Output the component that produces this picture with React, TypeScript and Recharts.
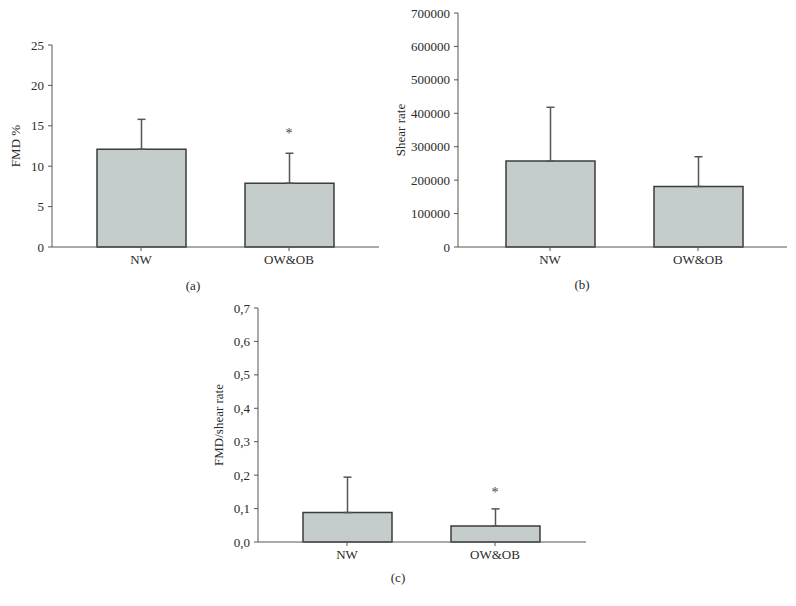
import React from "react";
import { ComposedChart, Bar, ErrorBar, Scatter, XAxis, YAxis } from "recharts";

// groups on the x axis
const categories = ["NW", "OW&OB"];

// (a) FMD %
const fmdMean = [12.1, 7.9];
const fmdSd = [3.7, 3.7];
const fmdTicks = [0, 5, 10, 15, 20, 25];

// (b) shear rate
const shearMean = [257000, 181000];
const shearSd = [161000, 89000];
const shearTicks = [0, 100000, 200000, 300000, 400000, 500000, 600000, 700000];

// (c) FMD / shear rate
const ratioMean = [0.088, 0.048];
const ratioSd = [0.106, 0.051];
const ratioTicks = [0, 0.1, 0.2, 0.3, 0.4, 0.5, 0.6, 0.7];

// significance markers (vs NW)
const fmdSig = ["", "*"];
const shearSig = ["", ""];
const ratioSig = ["", "*"];

const FONT = "'Liberation Serif', 'DejaVu Serif', serif";
const BAR_FILL = "#c4cdcc";
const BAR_STROKE = "#3c3c3c";
const AXIS = "#555";
const TEXT = "#2a2a2a";

const build = (mean: number[], sd: number[], sig: string[]) =>
  categories.map((name, i) => ({
    name,
    mean: mean[i],
    err: [0, sd[i]],
    top: mean[i] + sd[i],
    sig: sig[i],
  }));

type PanelProps = {
  data: ReturnType<typeof build>;
  ticks: number[];
  yLabel: string;
  labelOffset: number;
  width: number;
  height: number;
  margin: { top: number; right: number; bottom: number; left: number };
  yWidth: number;
  padL: number;
  padR: number;
  fmt?: (v: number) => string;
  starGap?: number;
};

function Panel(p: PanelProps) {
  const tickStyle = { fill: TEXT, fontSize: 13, fontFamily: FONT };
  const gap = p.starGap ?? 15;
  return (
    <ComposedChart width={p.width} height={p.height} data={p.data} margin={p.margin}>
      <XAxis
        dataKey="name"
        stroke={AXIS}
        tick={tickStyle}
        tickSize={4}
        tickMargin={4}
        padding={{ left: p.padL, right: p.padR }}
        height={30}
      />
      <YAxis
        domain={[p.ticks[0], p.ticks[p.ticks.length - 1]]}
        ticks={p.ticks}
        interval={0}
        stroke={AXIS}
        tick={tickStyle}
        tickSize={4}
        tickMargin={4}
        width={p.yWidth}
        tickFormatter={p.fmt}
        label={{
          value: p.yLabel,
          angle: -90,
          position: "insideLeft",
          offset: p.labelOffset,
          style: { textAnchor: "middle", fill: TEXT, fontSize: 13, fontFamily: FONT },
        }}
      />
      <Bar dataKey="mean" barSize={89} fill={BAR_FILL} stroke={BAR_STROKE} strokeWidth={1.5} isAnimationActive={false}>
        <ErrorBar dataKey="err" width={4} stroke="#555" strokeWidth={1.5} direction="y" />
      </Bar>
      <Scatter
        dataKey="top"
        isAnimationActive={false}
        legendType="none"
        shape={(s: any) =>
          s.payload && s.payload.sig ? (
            <text x={s.cx} y={s.cy - gap} textAnchor="middle" fill="#444" fontSize={14} fontFamily={FONT}>
              {s.payload.sig}
            </text>
          ) : (
            <g />
          )
        }
      />
    </ComposedChart>
  );
}

const commaFmt = (v: number) => v.toFixed(1).replace(".", ",");

const caption: React.CSSProperties = {
  position: "absolute",
  transform: "translate(-50%, -50%)",
  fontFamily: FONT,
  fontSize: 13,
  color: TEXT,
};

export default function App() {
  return (
    <div style={{ position: "absolute", left: 0, top: 0, width: 796, height: 606, background: "#fff" }}>
      <div style={{ position: "absolute", left: 0, top: 0 }}>
        <Panel
          data={build(fmdMean, fmdSd, fmdSig)}
          ticks={fmdTicks}
          yLabel="FMD %"
          labelOffset={15}
          width={390}
          height={300}
          margin={{ top: 45, right: 11, bottom: 23, left: 0 }}
          yWidth={52}
          padL={15}
          padR={16}
          starGap={15}
        />
      </div>
      <div style={{ position: "absolute", left: 390, top: 0 }}>
        <Panel
          data={build(shearMean, shearSd, shearSig)}
          ticks={shearTicks}
          yLabel="Shear rate"
          labelOffset={10}
          width={400}
          height={300}
          margin={{ top: 13, right: 3, bottom: 23, left: 0 }}
          yWidth={68}
          padL={18}
          padR={15}
        />
      </div>
      <div style={{ position: "absolute", left: 190, top: 290 }}>
        <Panel
          data={build(ratioMean, ratioSd, ratioSig)}
          ticks={ratioTicks}
          yLabel="FMD/shear rate"
          labelOffset={28}
          width={400}
          height={310}
          margin={{ top: 18, right: 4, bottom: 28, left: 0 }}
          yWidth={68}
          padL={15}
          padR={17}
          fmt={commaFmt}
          starGap={12}
        />
      </div>
      <div style={{ ...caption, left: 193, top: 286 }}>(a)</div>
      <div style={{ ...caption, left: 582, top: 285 }}>(b)</div>
      <div style={{ ...caption, left: 398, top: 578 }}>(c)</div>
    </div>
  );
}
